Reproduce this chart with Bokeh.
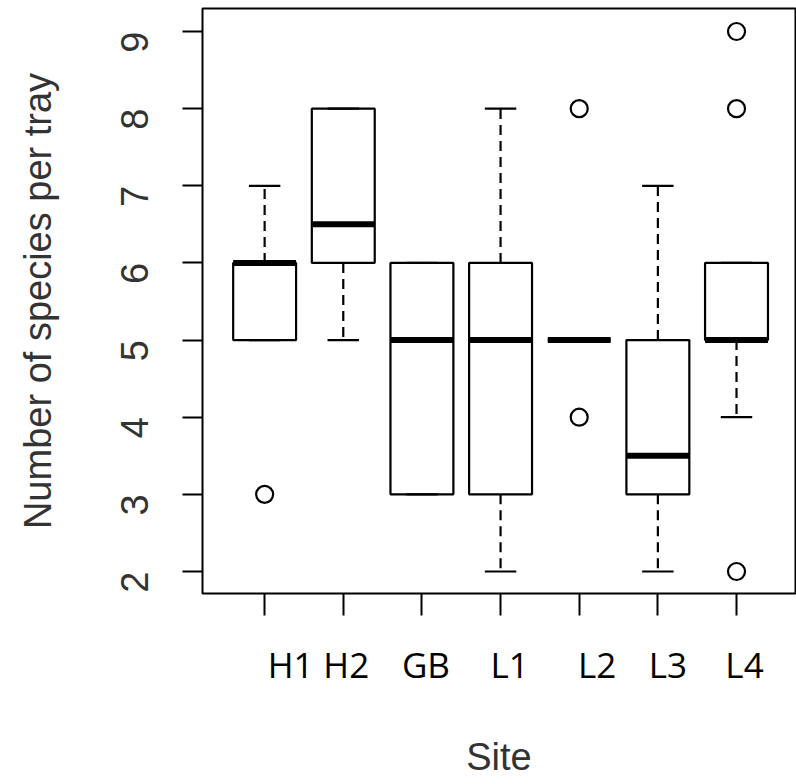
import math
from bokeh.plotting import figure
from bokeh.models import Range1d, FixedTicker, LinearAxis, CustomJSTickFormatter
from bokeh.embed import file_html
from bokeh.resources import INLINE

# ---- data ----
sites = ["H1", "H2", "GB", "L1", "L2", "L3", "L4"]
q1 = [5, 6, 3, 3, 5, 3, 5]
medians = [6, 6.5, 5, 5, 5, 3.5, 5]
q3 = [6, 8, 6, 6, 5, 5, 6]
whisker_low = [5, 5, 3, 2, 5, 2, 4]
whisker_high = [7, 8, 6, 8, 5, 7, 6]
outlier_site = ["H1", "L2", "L2", "L4", "L4", "L4"]
outlier_value = [3, 8, 4, 9, 8, 2]
y_ticks = [2, 3, 4, 5, 6, 7, 8, 9]
y_title = "Number of species per tray"
x_title = "Site"

# ---- layout ----
pos = list(range(1, len(sites) + 1))
box_w = 0.8
cap_w = 0.4
name_nudge = [26, 3, 4, 9, 18, 10, 8]   # pixel nudges of the pasted site names
x_lo, x_hi = 0.21, 7.75
frame_w = 593
px_per_unit = frame_w / (x_hi - x_lo)
name_pos = [x + n / px_per_unit for x, n in zip(pos, name_nudge)]
lw = 2.2

p = figure(width=796, height=784, output_backend="svg", toolbar_location=None,
           x_range=Range1d(x_lo, x_hi), y_range=Range1d(1.715, 9.298),
           min_border_left=202, min_border_right=1, min_border_top=8,
           min_border_bottom=191, background_fill_color="white",
           border_fill_color="white")

p.xgrid.visible = False
p.ygrid.visible = False
p.outline_line_color = "black"
p.outline_line_width = 2
p.outline_line_alpha = 1

dash = "10 6"
# whiskers
p.segment(x0=pos, y0=q3, x1=pos, y1=whisker_high, line_color="black",
          line_width=lw, line_dash=dash)
p.segment(x0=pos, y0=q1, x1=pos, y1=whisker_low, line_color="black",
          line_width=lw, line_dash=dash)
# caps
p.segment(x0=[x - cap_w / 2 for x in pos], y0=whisker_high,
          x1=[x + cap_w / 2 for x in pos], y1=whisker_high,
          line_color="black", line_width=lw)
p.segment(x0=[x - cap_w / 2 for x in pos], y0=whisker_low,
          x1=[x + cap_w / 2 for x in pos], y1=whisker_low,
          line_color="black", line_width=lw)
# boxes
p.quad(left=[x - box_w / 2 for x in pos], right=[x + box_w / 2 for x in pos],
       bottom=q1, top=q3, fill_color=None, line_color="black", line_width=lw)
# medians
p.segment(x0=[x - box_w / 2 for x in pos], y0=medians,
          x1=[x + box_w / 2 for x in pos], y1=medians,
          line_color="black", line_width=6)
# outliers
p.scatter(x=[sites.index(s) + 1 for s in outlier_site], y=outlier_value,
          marker="circle", size=17, fill_color=None, line_color="black",
          line_width=lw)

# x axis A: ticks only
xa = p.xaxis[0]
xa.ticker = FixedTicker(ticks=pos)
xa.major_label_overrides = {x: "" for x in pos}
xa.major_label_text_font_size = "0px"
xa.major_label_standoff = 0
xa.major_tick_out = 22
xa.major_tick_in = 0
xa.major_tick_line_width = 2
xa.major_tick_line_color = "black"
xa.minor_tick_line_color = None
xa.axis_line_color = None

# x axis B: site names (pasted text in the reference) + title
xb = LinearAxis(ticker=FixedTicker(ticks=name_pos),
                formatter=CustomJSTickFormatter(args=dict(names=sites),
                                                code="return names[index];"))
xb.major_tick_out = 0
xb.major_tick_in = 0
xb.major_tick_line_color = None
xb.minor_tick_line_color = None
xb.axis_line_color = None
xb.major_label_text_font = "Open Sans"
xb.major_label_text_font_size = "35px"
xb.major_label_text_color = "black"
xb.major_label_standoff = 25
xb.axis_label = x_title
xb.axis_label_text_font = "Liberation Sans"
xb.axis_label_text_font_size = "38px"
xb.axis_label_text_font_style = "normal"
xb.axis_label_text_color = "#333333"
xb.axis_label_standoff = 45
p.add_layout(xb, "below")

# y axis
ya = p.yaxis[0]
ya.ticker = FixedTicker(ticks=y_ticks)
ya.major_tick_out = 20
ya.major_tick_in = 0
ya.major_tick_line_width = 2
ya.major_tick_line_color = "black"
ya.minor_tick_line_color = None
ya.axis_line_color = None
ya.major_label_orientation = math.pi / 2
ya.major_label_text_font = "Liberation Sans"
ya.major_label_text_font_size = "38px"
ya.major_label_text_color = "#333333"
ya.major_label_standoff = 48
ya.axis_label = y_title
ya.axis_label_text_font = "Liberation Sans"
ya.axis_label_text_font_size = "38px"
ya.axis_label_text_font_style = "normal"
ya.axis_label_text_color = "#333333"
ya.axis_label_standoff = 46

open("out.html", "w").write(file_html(p, INLINE))
